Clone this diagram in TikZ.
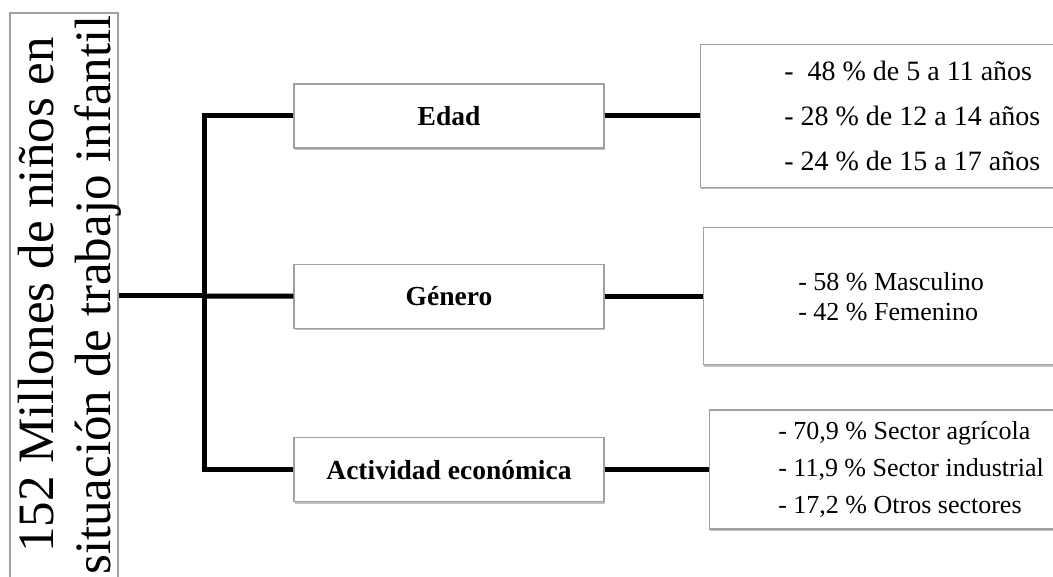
\documentclass[tikz,border=0pt]{standalone}
\usepackage{fontspec}
\setmainfont{Liberation Serif}
\usetikzlibrary{positioning,shadows}
\definecolor{borde}{HTML}{A0A0A0}

\begin{document}
\begin{tikzpicture}[x=1pt,y=-1pt,node distance=95pt,
  link/.style={line width=5pt,line join=miter},
  sombra/.style={drop shadow={shadow xshift=1pt,shadow yshift=-2pt,opacity=.25,fill=black}}]
 \tikzstyle{caja}=[rectangle,draw=borde,line width=1.3pt,fill=white,sombra]
 \tikzstyle{tema}=[caja,minimum width=310pt,minimum height=64pt,font=\bfseries\fontsize{27.5}{30}\selectfont]
 \tikzstyle{dato}=[caja,align=left,inner ysep=4pt]

\useasboundingbox (0,0) rectangle (1053,577);

\node[caja,minimum width=108pt,minimum height=566pt]  (total)     at (64,296)   {};
\node[rotate=90,inner sep=0pt,align=center,font=\fontsize{51}{57}\selectfont]
                                                      (totaltxt)  at (69.5,295) {152 Millones de niños en\\situación de trabajo infantil};
\coordinate                                           (bus)       at (204,296);

\node[tema]                      (edad)                          at (449,116) {Edad};
\node[tema]                      (genero)    [below=115pt of edad]            {Género};
\node[tema]                      (actividad) [below=108pt of genero]          {Actividad económica};

\node[dato,inner xsep=84pt,minimum height=143pt,font=\fontsize{28}{45}\selectfont]
                                 (edaddat)   [right=of edad]
                                 {-\ \ 48 \% de 5 a 11 años\\- 28 \% de 12 a 14 años\\- 24 \% de 15 a 17 años};
\node[dato,inner xsep=95pt,minimum height=137pt,font=\fontsize{26}{30}\selectfont]
                                 (generodat) [right=98pt of genero]
                                 {- 58 \% Masculino\\- 42 \% Femenino};
\node[dato,inner xsep=69pt,minimum height=119pt,font=\fontsize{26}{37}\selectfont]
                                 (actividaddat) [right=104pt of actividad]
                                 {- 70,9 \% Sector agrícola\\- 11,9 \% Sector industrial\\- 17,2 \% Otros sectores};

\draw[link] (edad.west) -| (bus) |- (actividad.west);
\path[link] (total)     edge (bus)
            (bus)       edge (genero)
            (edad)      edge (edaddat)
            (genero)    edge (generodat)
            (actividad) edge (actividaddat);
\end{tikzpicture}
\end{document}
